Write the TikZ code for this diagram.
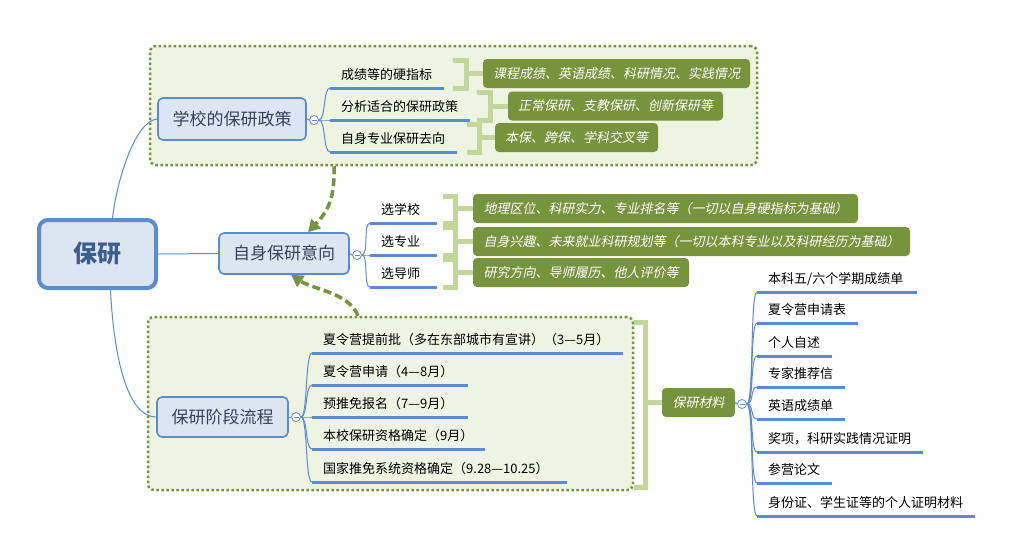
\documentclass[tikz,border=0pt]{standalone}
\usepackage{fontspec}
\setmainfont{Noto Sans CJK SC}
\newfontfamily\slcjk{Noto Sans CJK SC}[FakeSlant=0.2]
\usetikzlibrary{arrows.meta,calc}
\definecolor{xblue}{HTML}{5B8BD0}
\definecolor{xfill}{HTML}{DCE6F3}
\definecolor{olive}{HTML}{77933C}
\definecolor{brk}{HTML}{C3D69B}
\definecolor{boxfill}{HTML}{EEF3E2}
\definecolor{ntext}{HTML}{34435A}
\definecolor{roottext}{HTML}{3B5E8C}
\tikzset{
  topic/.style={draw=xblue, fill=xfill, line width=1.6pt, rounded corners=5pt, text=ntext,
    font=\fontsize{17}{20}\selectfont, inner sep=0pt},
  rootnode/.style={draw=xblue, fill=xfill, line width=4pt, rounded corners=9pt, text=roottext,
    font=\fontsize{24}{28}\selectfont\bfseries, inner sep=0pt, minimum width=117pt, minimum height=68pt},
  leaf/.style={anchor=south west, inner xsep=11pt, inner ysep=0pt, minimum height=26pt,
    align=left, font=\fontsize{13}{15}\selectfont, text=black},
  uline/.style={draw=xblue, line width=3pt},
  conn/.style={draw=xblue, line width=1pt},
  branch/.style={to path={.. controls +(7,0) and +(-7,0) .. (\tikztotarget)}},
  fold/.style={circle, draw=xblue, fill=white, line width=0.8pt, minimum size=9pt, inner sep=0pt,
    path picture={\draw[xblue, line width=0.7pt] ([xshift=-2.5pt]path picture bounding box.center) -- ([xshift=2.5pt]path picture bounding box.center);}},
  greenbox/.style={fill=olive, rounded corners=4pt, text=white, minimum height=29pt, inner sep=0pt,
    font=\fontsize{13}{15}\selectfont\slcjk},
  grpbox/.style={draw=olive, fill=boxfill, line width=2.5pt, dash pattern=on 2.5pt off 2.5pt,
    rounded corners=6pt, inner sep=0pt},
  bracket/.style={draw=brk, line width=5pt, line join=miter},
  dasharrow/.style={draw=olive, line width=3.5pt, dash pattern=on 8pt off 4pt,
    -{Triangle[length=12pt,width=13pt]}}
}
\begin{document}
\begin{tikzpicture}[x=1pt,y=-1pt]
\useasboundingbox (0,0) rectangle (1035,541);
\fill[white] (0,0) rectangle (1035,541);

% group boxes
\node[grpbox, minimum width=607pt, minimum height=119pt] (G1) at (453.5,105.5) {};
\node[grpbox, minimum width=485pt, minimum height=173pt] (G2) at (390.5,403.5) {};

% main nodes
\node[rootnode] (root) at (97.5,254) {保研};
\node[topic, minimum width=148pt, minimum height=42pt] (s1) at (232,119) {学校的保研政策};
\node[topic, minimum width=130pt, minimum height=41pt] (s2) at (284,253.5) {自身保研意向};
\node[topic, minimum width=131pt, minimum height=40pt] (s3) at (222.5,417) {保研阶段流程};
\node[greenbox, minimum width=73pt] (mat) at (698.5,402.5) {保研材料};

% fold circles
\node[fold] (c1) at (314,120) {};
\node[fold] (c2) at (357,255) {};
\node[fold] (c3) at (296,417) {};
\node[fold] (c4) at (742,404) {};

% leaves
\node[leaf, text width=92pt] (a1) at (330,88) {成绩等的硬指标};
\node[leaf, text width=118pt] (a2) at (330,120) {分析适合的保研政策};
\node[leaf, text width=105pt] (a3) at (330,152) {自身专业保研去向};

\node[leaf, text width=45pt] (b1) at (370,223) {选学校};
\node[leaf, text width=45pt] (b2) at (370,255) {选专业};
\node[leaf, text width=45pt] (b3) at (370,287) {选导师};

\node[leaf, text width=289pt] (d1) at (312,353) {夏令营提前批（多在东部城市有宣讲）（3—5月）};
\node[leaf, text width=134pt] (d2) at (312,385) {夏令营申请（4—8月）};
\node[leaf, text width=134pt] (d3) at (312,417) {预推免报名（7—9月）};
\node[leaf, text width=151pt] (d4) at (312,449) {本校保研资格确定（9月）};
\node[leaf, text width=233pt] (d5) at (312,482) {国家推免系统资格确定（9.28—10.25）};

\node[leaf, text width=138pt] (m1) at (757,292) {本科五/六个学期成绩单};
\node[leaf, text width=79pt] (m2) at (757,323) {夏令营申请表};
\node[leaf, text width=53pt] (m3) at (757,356) {个人自述};
\node[leaf, text width=66pt] (m4) at (757,387) {专家推荐信};
\node[leaf, text width=66pt] (m5) at (757,419) {英语成绩单};
\node[leaf, text width=144pt] (m6) at (757,452) {奖项，科研实践情况证明};
\node[leaf, text width=53pt] (m7) at (757,483) {参营论文};
\node[leaf, text width=196pt] (m8) at (757,516) {身份证、学生证等的个人证明材料};

% green summary boxes
\node[greenbox, minimum width=267pt] (g1) at (616.5,73.5) {课程成绩、英语成绩、科研情况、实践情况};
\node[greenbox, minimum width=215pt] (g2) at (615.5,106) {正常保研、支教保研、创新保研等};
\node[greenbox, minimum width=163pt] (g3) at (576.5,137.5) {本保、跨保、学科交叉等};
\node[greenbox, minimum width=385pt] (h1) at (665.5,208.5) {地理区位、科研实力、专业排名等（一切以自身硬指标为基础）};
\node[greenbox, minimum width=437pt] (h2) at (691.5,241.5) {自身兴趣、未来就业科研规划等（一切以本科专业以及科研经历为基础）};
\node[greenbox, minimum width=216pt] (h3) at (581,272.5) {研究方向、导师履历、他人评价等};

% underlines
\foreach \n in {a1,a2,a3,b1,b2,b3,d1,d2,d3,d4,d5,m1,m2,m3,m4,m5,m6,m7,m8}
  \draw[uline] (\n.south west) -- (\n.south east);

% root connectors
\draw[conn] ([xshift=15pt]root.north) .. controls (117,180) and (135,121) .. (s1.west);
\draw[conn] (root.east) -- (s2.west);
\draw[conn] ([xshift=13pt]root.south) .. controls (114,360) and (128,417) .. (s3.west);

% topic to fold circles
\draw[conn] (s1.east) -- (c1.west);
\draw[conn] (s2.east) -- (c2.west);
\draw[conn] (s3.east) -- (c3.west);
\draw[conn] (mat.east) -- (c4.west);

% branches
\foreach \n in {a1,a2,a3} \draw[conn] (c1.east) to[branch] (\n.south west);
\foreach \n in {b1,b2,b3} \draw[conn] (c2.east) to[branch] (\n.south west);
\foreach \n in {d1,d2,d3,d4,d5} \draw[conn] (c3.east) to[branch] (\n.south west);
\foreach \n in {m1,m2,m3,m4,m5,m6,m7,m8} \draw[conn] (c4.east) to[branch] (\n.south west);

% brackets
\draw[bracket] (453,60) -- (466,60) -- (466,88) -- (453,88);
\draw[bracket] (466,0 |- g1.west) -- (g1.west);
\draw[bracket] (477,92) -- (490,92) -- (490,120) -- (477,120);
\draw[bracket] (490,0 |- g2.west) -- (g2.west);
\draw[bracket] (467,124) -- (479,124) -- (479,152) -- (467,152);
\draw[bracket] (479,0 |- g3.west) -- (g3.west);

\draw[bracket] (443,196) -- (455,196) -- (455,223) -- (443,223);
\draw[bracket] (455,0 |- h1.west) -- (h1.west);
\draw[bracket] (443,227) -- (455,227) -- (455,255) -- (443,255);
\draw[bracket] (455,0 |- h2.west) -- (h2.west);
\draw[bracket] (443,259) -- (455,259) -- (455,287) -- (443,287);
\draw[bracket] (455,0 |- h3.west) -- (h3.west);

\draw[bracket] (634,322) -- (645,322) -- (645,487) -- (634,487);
\draw[bracket] (645,0 |- mat.west) -- (mat.west);

% dashed arrows
\draw[dasharrow] (334,0 |- G1.south) .. controls (335,200) and (327,212) .. ([xshift=24pt]s2.north);
\draw[dasharrow] (358,0 |- G2.north) .. controls (348,292) and (314,290) .. ([xshift=7pt]s2.south);
\end{tikzpicture}
\end{document}
